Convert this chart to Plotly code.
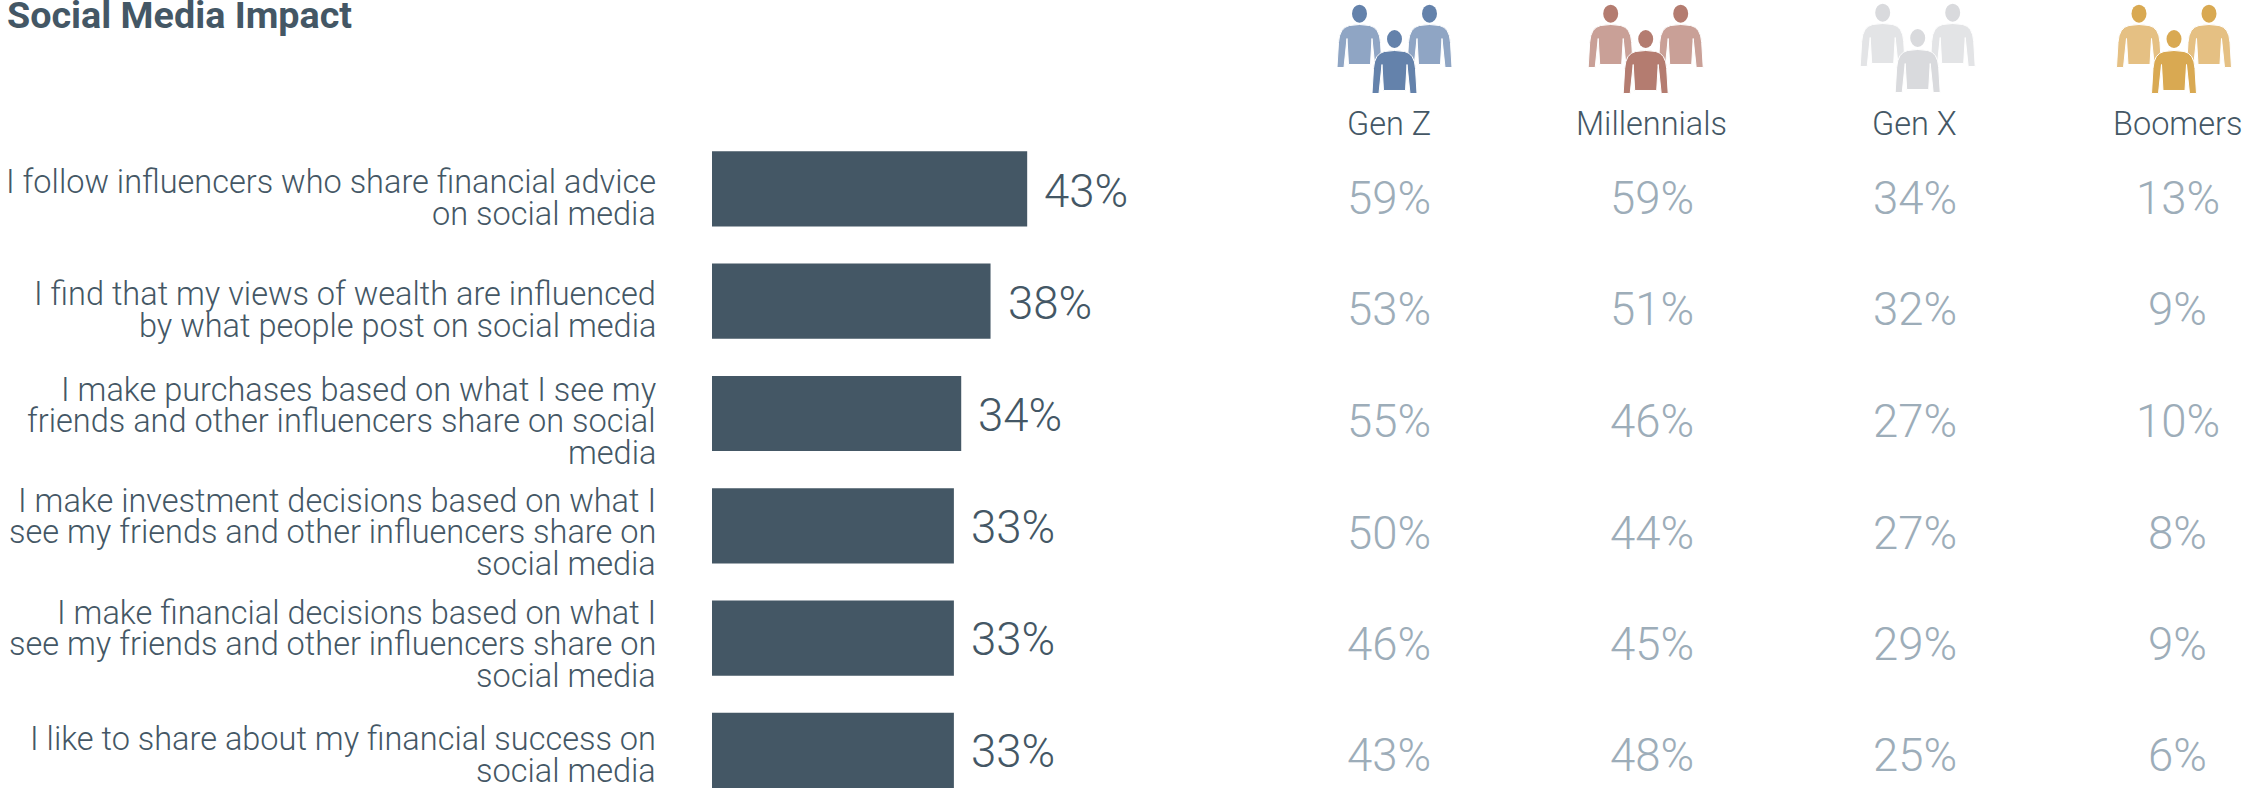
import plotly.graph_objects as go

W, H = 2246, 793

title_text = "Social Media Impact"
label_lines = [
    ["I follow influencers who share financial advice", "on social media"],
    ["I find that my views of wealth are influenced", "by what people post on social media"],
    ["I make purchases based on what I see my", "friends and other influencers share on social", "media"],
    ["I make investment decisions based on what I", "see my friends and other influencers share on", "social media"],
    ["I make financial decisions based on what I", "see my friends and other influencers share on", "social media"],
    ["I like to share about my financial success on", "social media"],
]
categories = [" ".join(lines) for lines in label_lines]
overall = [43, 38, 34, 33, 33, 33]

generations = ["Gen Z", "Millennials", "Gen X", "Boomers"]
gen_z = [59, 53, 55, 50, 46, 43]
millennials = [59, 51, 46, 44, 45, 48]
gen_x = [34, 32, 27, 27, 29, 25]
boomers = [13, 9, 10, 8, 9, 6]
gen_values = [gen_z, millennials, gen_x, boomers]

INK = "#445765"
MUTED = "#9DADB9"
FONT = "Roboto"

# Layout constants, in pixels of the page
BAR_X0, PX_PER_POINT = 712.0, 7.33
ROW0_Y, ROW_PITCH = 188.9, 112.3
COL0_X, COL_PITCH = 1388.5, 263.0
LABEL_RIGHT = 658
LABEL_CENTERS = [198, 310, 421, 532, 644, 755]
LINE_PITCH = 31.5
BAR_VALUE_Y = [190, 302.5, 414, 526.7, 638.7, 750.8]
GEN_VALUE_Y = [197.5, 308.8, 420.8, 532, 643, 754.7]
GLYPH_LIFT = 1.0  # px, digits sit above the middle of their text box

# Icon palette per generation: front figure and heads, back figure bodies
ICONS = [
    (1394.5, 0.0, "#6482AB", "#8FA5C4"),
    (1645.7, 0.0, "#B47C70", "#C9A097"),
    (1917.7, -1.0, "#D9DADD", "#E3E4E6"),
    (2174.0, 0.0, "#D9A952", "#E5C083"),
]


def px(x):
    return x / W


def py(y):
    return 1 - y / H


def row_shift(i, target_y):
    """yshift that places a row's value text at a given page height."""
    return -(target_y - (ROW0_Y + i * ROW_PITCH) + GLYPH_LIFT)


def body_path(cx, top):
    """Outline of a torso with arms, in page pixels."""
    def p(dx, dy):
        return f"{px(cx + dx):.5f},{py(top + dy):.5f}"
    return (
        f"M{p(-22.5, 43)} L{p(-21, 18)} Q{p(-20, 3)} {p(-10, 1)} Q{p(0, -1)} {p(10, 1)} "
        f"Q{p(20, 3)} {p(21, 18)} L{p(22.5, 43)} L{p(15.5, 43)} L{p(12.5, 14)} "
        f"L{p(11, 40)} L{p(-11, 40)} L{p(-12.5, 14)} L{p(-15.5, 43)} Z"
    )


def head_shape(cx, cy, color):
    return dict(type="circle", xref="paper", yref="paper",
                x0=px(cx - 7.5), x1=px(cx + 7.5), y0=py(cy - 9), y1=py(cy + 9),
                fillcolor=color, line=dict(width=0))


def body_shape(cx, top, color):
    return dict(type="path", xref="paper", yref="paper", path=body_path(cx, top),
                fillcolor=color, line=dict(color="white", width=1))


shapes = []
for cx, dy, front, back in ICONS:
    for side in (-35, 35):
        shapes.append(head_shape(cx + side, 13.7 + dy, front))
        shapes.append(body_shape(cx + side, 24.5 + dy, back))
    shapes.append(head_shape(cx, 39 + dy, front))
    shapes.append(body_shape(cx, 50.5 + dy, front))

fig = go.Figure()

# Overall share bars
fig.add_trace(go.Bar(
    x=overall, y=categories, orientation="h", width=0.67,
    marker=dict(color=INK, line=dict(width=0)), hoverinfo="x+y", showlegend=False,
))

annotations = []

# Value labels beside each bar
for i, (cat, v) in enumerate(zip(categories, overall)):
    annotations.append(dict(
        xref="x", yref="y", x=v, y=cat, text=f"{v}%", showarrow=False,
        xanchor="left", yanchor="middle", xshift=15, yshift=row_shift(i, BAR_VALUE_Y[i]),
        font=dict(family=FONT, size=45.5, color=INK, weight=300),
    ))

# One column of figures per generation
for name, values in zip(generations, gen_values):
    for i, (cat, v) in enumerate(zip(categories, values)):
        annotations.append(dict(
            xref="x2", yref="y", x=name, y=cat, text=f"{v}%", showarrow=False,
            xanchor="center", yanchor="middle", yshift=row_shift(i, GEN_VALUE_Y[i]),
            font=dict(family=FONT, size=45.5, color=MUTED, weight=300),
        ))

# Invisible trace so the generation axis exists
fig.add_trace(go.Scatter(
    x=generations, y=[categories[0]] * len(generations), xaxis="x2", mode="markers",
    marker=dict(opacity=0, size=1), hoverinfo="skip", showlegend=False,
))

# Row labels, one annotation per line for tight leading
for center, lines in zip(LABEL_CENTERS, label_lines):
    for i, line in enumerate(lines):
        annotations.append(dict(
            xref="paper", yref="paper", x=px(LABEL_RIGHT),
            y=py(center + (i - (len(lines) - 1) / 2) * LINE_PITCH),
            text=line, showarrow=False, xanchor="right", yanchor="middle",
            font=dict(family=FONT, size=32.5, color=INK, weight=300),
        ))
for name in generations:
    annotations.append(dict(
        xref="x2", yref="paper", x=name, y=py(124.5), text=name, showarrow=False,
        xanchor="center", yanchor="middle",
        font=dict(family=FONT, size=32.5, color=INK, weight=300),
    ))

fig.update_layout(
    width=W, height=H, margin=dict(l=0, r=0, t=0, b=0),
    autosize=False, paper_bgcolor="white", plot_bgcolor="rgba(0,0,0,0)", showlegend=False,
    title=dict(text=f"<b>{title_text}</b>", xref="paper", yref="paper",
               x=px(7), y=py(15), xanchor="left", yanchor="middle",
               font=dict(family=FONT, size=37.7, color=INK)),
    xaxis=dict(domain=[px(BAR_X0), 1], range=[0, (W - BAR_X0) / PX_PER_POINT],
               visible=False, fixedrange=True),
    xaxis2=dict(domain=[0, 1], anchor="y", type="category",
                categoryorder="array", categoryarray=generations,
                range=[-COL0_X / COL_PITCH, (W - COL0_X) / COL_PITCH],
                visible=False, fixedrange=True),
    yaxis=dict(domain=[0, 1], type="category", categoryorder="array", categoryarray=categories,
               range=[(H - ROW0_Y) / ROW_PITCH, -ROW0_Y / ROW_PITCH],
               visible=False, fixedrange=True),
    shapes=shapes, annotations=annotations,
)

fig.write_html("out.html")
